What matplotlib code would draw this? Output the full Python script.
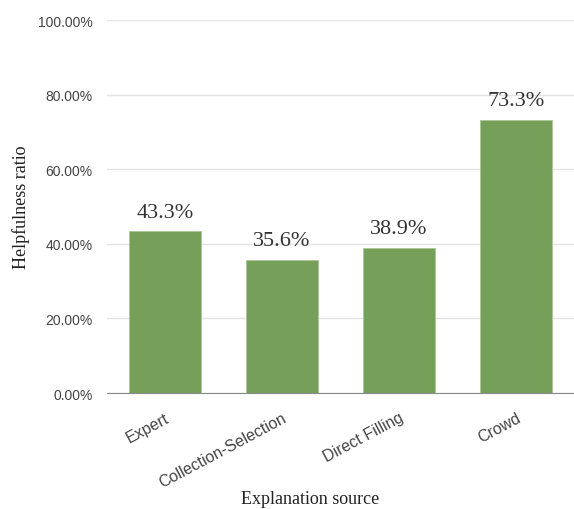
import matplotlib.pyplot as plt
from matplotlib.ticker import FuncFormatter

sources = ["Expert", "Collection-Selection", "Direct Filling", "Crowd"]
ratios = [43.3, 35.6, 38.9, 73.3]
y_ticks = [0, 20, 40, 60, 80, 100]

fig = plt.figure(figsize=(5.74, 5.10), dpi=100)
ax = fig.add_axes([106.5 / 574, 1 - 394 / 510, 468 / 574, 373 / 510])

bars = ax.bar(range(len(sources)), ratios, width=0.615, color="#76a05a",
              edgecolor="#a9c796", linewidth=0.6, zorder=3)

for i, v in enumerate(ratios):
    ax.annotate(f"{v:.1f}%", (i, v), xytext=(0, 7), textcoords="offset points",
                ha="center", va="bottom", fontsize=16, color="#333333",
                family="Liberation Serif")

ax.set_xlim(-0.5, 3.5)
ax.set_ylim(0, 100)
ax.set_yticks(y_ticks)
ax.yaxis.set_major_formatter(FuncFormatter(lambda v, p: f"{v:.2f}%"))
ax.grid(axis="y", color="#e4e4e4", linewidth=1, zorder=0)
for s in ["top", "right", "left"]:
    ax.spines[s].set_visible(False)
ax.spines["bottom"].set_color("#8a8a8a")
ax.spines["bottom"].set_zorder(4)

ax.tick_params(axis="y", length=0, pad=10, labelsize=10, labelcolor="#444444")
ax.tick_params(axis="x", length=0, pad=12, labelsize=11.5, labelcolor="#444444")
for lab in ax.get_yticklabels():
    lab.set_family("Liberation Sans")
ax.set_xticks(range(len(sources)))
ax.set_xticklabels(sources, rotation=28, ha="right", rotation_mode="anchor",
                   family="Liberation Sans")

ax.set_ylabel("Helpfulness ratio", fontsize=13, family="Liberation Serif",
              color="#222222", labelpad=6)
fig.text(310.5 / 574, 1 - 500 / 510, "Explanation source", ha="center", va="center",
         fontsize=13, family="Liberation Serif", color="#222222")

fig.savefig("out.png", dpi=100)
